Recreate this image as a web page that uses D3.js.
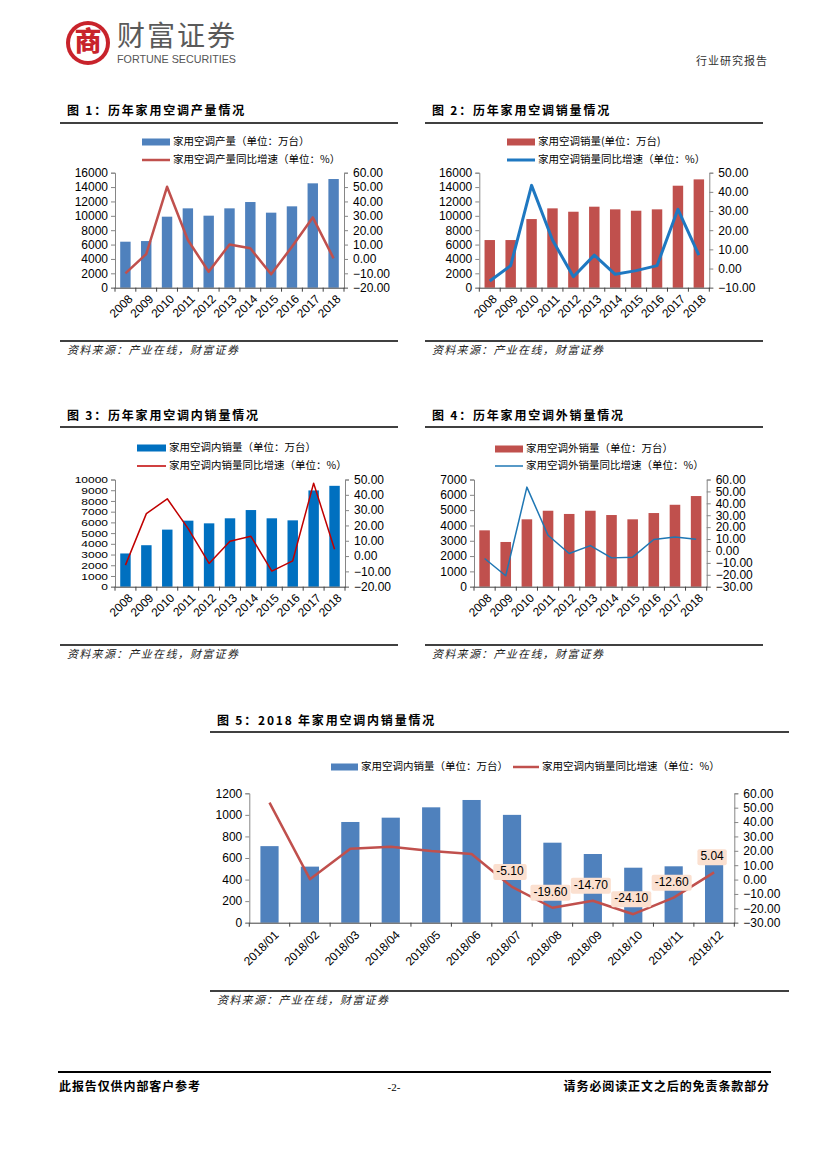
<!DOCTYPE html>
<html><head><meta charset="utf-8">
<script src="https://cdn.jsdelivr.net/npm/d3@7"></script>
<style>body{margin:0;background:#fff}svg{display:block}</style>
</head><body>
<svg id="page" width="827" height="1170"></svg>
<script>
// ---------------- DATA ----------------
const years = ["2008","2009","2010","2011","2012","2013","2014","2015","2016","2017","2018"];
const prodVolume   = [6400, 6490, 9880, 11040, 10020, 11040, 11920, 10440, 11320, 14520, 15120];
const prodGrowth   = [-10.0, 3.4, 50.2, 13.2, -8.9, 10.1, 7.4, -10.7, 8.5, 28.9, 0.4];
const salesVolume  = [6630, 6630, 9550, 11040, 10570, 11270, 10900, 10710, 10900, 14190, 15070];
const salesGrowth  = [-6.5, 1.5, 43.4, 14.9, -4.3, 7.0, -3.0, -1.1, 1.5, 30.9, 7.0];
const domesticVolume = [3100, 3870, 5325, 6160, 5910, 6380, 7150, 6380, 6190, 8980, 9410];
const domesticGrowth = [-5.9, 27.7, 37.4, 17.9, -4.8, 9.7, 12.9, -9.8, -3.1, 47.6, 4.5];
const exportVolume = [3680, 2920, 4400, 4960, 4750, 4960, 4680, 4400, 4810, 5350, 5920];
const exportGrowth = [-6.3, -20.8, 53.6, 13.2, -2.1, 4.5, -5.8, -5.2, 9.6, 11.8, 9.8];

const months = ["2018/01","2018/02","2018/03","2018/04","2018/05","2018/06","2018/07","2018/08","2018/09","2018/10","2018/11","2018/12"];
const monthlyDomestic = [710, 520, 934, 974, 1070, 1138, 1000, 742, 637, 510, 523, 538];
const monthlyGrowth   = [53.5, 0.3, 21.5, 22.9, 19.9, 17.8, -5.10, -19.60, -14.70, -24.10, -12.60, 5.04];
const labeledMonths   = ["2018/07","2018/08","2018/09","2018/10","2018/11","2018/12"];

const ticks16000 = [0,2000,4000,6000,8000,10000,12000,14000,16000];
const ticks10000 = [0,1000,2000,3000,4000,5000,6000,7000,8000,9000,10000];
const ticks7000  = [0,1000,2000,3000,4000,5000,6000,7000];
const ticks1200  = [0,200,400,600,800,1000,1200];
const pctTicksA = [-20,-10,0,10,20,30,40,50,60];
const pctTicksB = [-10,0,10,20,30,40,50];
const pctTicksC = [-20,-10,0,10,20,30,40,50];
const pctTicksD = [-30,-20,-10,0,10,20,30,40,50,60];

const sourceText = "资料来源：产业在线，财富证券";

// ---------------- DRAWING ----------------
const svg = d3.select("#page");
const NUM = "'Liberation Sans', Arial, sans-serif";
const CJK = "'Noto Sans CJK SC', 'Noto Sans', sans-serif";
const AXIS = "#868686";

// Header
const logo = svg.append("g").attr("transform","translate(88,43)");
logo.append("circle").attr("r",22).attr("fill","#c8232b");
logo.append("circle").attr("r",18).attr("fill","#fff");
logo.append("text").attr("y",1).attr("text-anchor","middle").attr("dominant-baseline","middle")
  .attr("font-family",CJK).attr("font-weight",900).attr("font-size",27).attr("fill","#c8232b").text("商");
svg.append("text").attr("x",117).attr("y",38).attr("dominant-baseline","middle")
  .attr("font-family",CJK).attr("font-size",28).attr("fill","#5a5a5a").attr("textLength",118).text("财富证券");
svg.append("text").attr("x",117).attr("y",60).attr("dominant-baseline","middle")
  .attr("font-family","'Liberation Sans Narrow', 'Liberation Sans', Arial, sans-serif").attr("font-size",10.5)
  .attr("fill","#555").attr("textLength",119).attr("lengthAdjust","spacingAndGlyphs").text("FORTUNE SECURITIES");
svg.append("text").attr("x",768).attr("y",62).attr("text-anchor","end").attr("dominant-baseline","middle")
  .attr("font-family",CJK).attr("font-size",11).attr("letter-spacing",1).attr("fill","#333").text("行业研究报告");

// Footer
svg.append("line").attr("x1",58).attr("x2",771).attr("y1",1072).attr("y2",1072).attr("stroke","#000").attr("stroke-width",1.8);
svg.append("text").attr("x",59).attr("y",1088).attr("dominant-baseline","middle")
  .attr("font-family",CJK).attr("font-weight",700).attr("font-size",12).attr("letter-spacing",0.9).text("此报告仅供内部客户参考");
svg.append("text").attr("x",394).attr("y",1088).attr("text-anchor","middle").attr("dominant-baseline","middle")
  .attr("font-family","'Liberation Serif', serif").attr("font-size",11).text("-2-");
svg.append("text").attr("x",770).attr("y",1088).attr("text-anchor","end").attr("dominant-baseline","middle")
  .attr("font-family",CJK).attr("font-weight",700).attr("font-size",12).attr("letter-spacing",0.9).text("请务必阅读正文之后的免责条款部分");

function drawChart(o) {
  const g = svg.append("g");
  // title
  g.append("text").attr("x", o.titleX).attr("y", o.titleY).attr("dominant-baseline","middle")
    .attr("font-family", CJK).attr("font-weight", 700).attr("font-size", 12).attr("letter-spacing", 1.8)
    .text(o.title);
  g.append("line").attr("x1", o.ruleX0).attr("x2", o.ruleX1).attr("y1", o.ruleTop).attr("y2", o.ruleTop)
    .attr("stroke","#000").attr("stroke-width",1.5);
  g.append("line").attr("x1", o.ruleX0).attr("x2", o.ruleX1).attr("y1", o.ruleBottom).attr("y2", o.ruleBottom)
    .attr("stroke","#000").attr("stroke-width",1.5);
  g.append("text").attr("x", o.titleX).attr("y", o.ruleBottom + 10).attr("dominant-baseline","middle")
    .attr("font-family", CJK).attr("font-style","italic").attr("font-size", 11).attr("letter-spacing", 1.3)
    .attr("fill","#222").text(sourceText);

  const x = d3.scaleBand().domain(o.cats).range([o.x0, o.x1]).paddingInner(o.pad).paddingOuter(o.pad/2);
  const yL = d3.scaleLinear().domain([o.leftTicks[0], o.leftTicks[o.leftTicks.length-1]]).range([o.yBottom, o.yTop]);
  const yR = d3.scaleLinear().domain([o.rightTicks[0], o.rightTicks[o.rightTicks.length-1]]).range([o.yBottom, o.yTop]);

  // bars
  g.append("g").selectAll("rect").data(o.cats).join("rect")
    .attr("x", d => x(d)).attr("width", x.bandwidth())
    .attr("y", (d,i) => yL(o.bars[i])).attr("height", (d,i) => yL(0) - yL(o.bars[i]))
    .attr("fill", o.barColor);

  // axes
  const left = g.append("g").attr("transform", `translate(${o.x0},0)`)
    .call(d3.axisLeft(yL).tickValues(o.leftTicks).tickSize(4).tickPadding(3).tickFormat(d3.format("d")));
  const right = g.append("g").attr("transform", `translate(${o.x1},0)`)
    .call(d3.axisRight(yR).tickValues(o.rightTicks).tickSize(4).tickPadding(5).tickFormat(d3.format(".2f")));
  const bottom = g.append("g").attr("transform", `translate(0,${o.yBottom})`)
    .call(d3.axisBottom(x).tickSize(0).tickPadding(0));
  [left, right].forEach(a => {
    a.select(".domain").attr("stroke", AXIS);
    a.selectAll(".tick line").attr("stroke", AXIS);
    a.selectAll("text").attr("font-family", NUM).attr("font-size", 12).attr("fill","#000");
  });
  if (o.compactLeft) {
    // dense axis: shorter glyphs, same width as the 12px labels
    left.selectAll("text").each(function() {
      const w = this.getComputedTextLength();
      d3.select(this).attr("font-size", 9.6).attr("textLength", w).attr("lengthAdjust", "spacingAndGlyphs");
    });
  }
  bottom.select(".domain").attr("stroke", "#404040");
  bottom.selectAll("text").attr("font-family", NUM).attr("font-size", 12).attr("fill","#000")
    .attr("x",0).attr("y",0).attr("dy","0.35em").attr("text-anchor","end")
    .attr("transform", `translate(${o.lblDx},${o.lblDy}) rotate(-45)`);
  // category boundary ticks
  const bounds = d3.range(o.cats.length + 1).map(i => o.x0 + i * x.step());
  g.append("g").selectAll("line").data(bounds).join("line")
    .attr("x1", d => d).attr("x2", d => d).attr("y1", o.yBottom).attr("y2", o.yBottom + 4)
    .attr("stroke", "#404040");

  // line
  const pts = o.cats.map((c,i) => [x(c) + x.bandwidth()/2, yR(o.line[i])]);
  g.append("path").attr("d", d3.line()(pts)).attr("fill","none")
    .attr("stroke", o.lineColor).attr("stroke-width", o.lineWidth).attr("stroke-linejoin","round");

  // legend
  o.legend.forEach(L => {
    if (L.type === "bar") {
      g.append("rect").attr("x", L.x).attr("y", L.y - 3.5).attr("width", L.w).attr("height", 7).attr("fill", o.barColor);
    } else {
      g.append("line").attr("x1", L.x).attr("x2", L.x + L.w).attr("y1", L.y).attr("y2", L.y)
        .attr("stroke", o.lineColor).attr("stroke-width", o.lineWidth);
    }
    g.append("text").attr("x", L.x + L.w + 3).attr("y", L.y).attr("dominant-baseline","middle")
      .attr("font-family", CJK).attr("font-size", 10.5).attr("fill","#000").text(L.text);
  });

  // data labels
  if (o.labels) {
    o.cats.forEach((c,i) => {
      if (!o.labels.includes(c)) return;
      const [px, py] = pts[i];
      const t = o.line[i].toFixed(2);
      const lg = g.append("g").attr("transform", `translate(${px - 2},${py - 15})`);
      const txt = lg.append("text").attr("text-anchor","middle").attr("dominant-baseline","middle")
        .attr("font-family", NUM).attr("font-size", 12).attr("fill","#000").text(t);
      const w = txt.node().getComputedTextLength() + 6;
      lg.insert("rect","text").attr("x", -w/2).attr("y", -8).attr("width", w).attr("height", 16)
        .attr("rx", 2).attr("fill", "#fbe0d0");
    });
  }
}

drawChart({
  title: "图 1：历年家用空调产量情况", titleX: 67, titleY: 112,
  ruleX0: 60, ruleX1: 398, ruleTop: 123, ruleBottom: 341,
  cats: years, bars: prodVolume, line: prodGrowth, pad: 0.5,
  x0: 115, x1: 344, yTop: 172.7, yBottom: 287.7,
  leftTicks: ticks16000, rightTicks: pctTicksA,
  barColor: "#4f81bd", lineColor: "#c0504d", lineWidth: 2.5,
  lblDx: 5, lblDy: 9,
  legend: [{type:"bar", x:142, y:142, w:28, text:"家用空调产量（单位：万台）"},
           {type:"line", x:142, y:160, w:28, text:"家用空调产量同比增速（单位：%）"}]
});
drawChart({
  title: "图 2：历年家用空调销量情况", titleX: 432, titleY: 112,
  ruleX0: 425, ruleX1: 763, ruleTop: 123, ruleBottom: 341,
  cats: years, bars: salesVolume, line: salesGrowth, pad: 0.5,
  x0: 479.3, x1: 709.3, yTop: 172.7, yBottom: 287.7,
  leftTicks: ticks16000, rightTicks: pctTicksB,
  barColor: "#c0504d", lineColor: "#1f78c1", lineWidth: 3,
  lblDx: 5, lblDy: 9,
  legend: [{type:"bar", x:507, y:142, w:28, text:"家用空调销量(单位：万台)"},
           {type:"line", x:507, y:160, w:28, text:"家用空调销量同比增速（单位：%）"}]
});
drawChart({
  title: "图 3：历年家用空调内销量情况", titleX: 67, titleY: 416.5,
  ruleX0: 60, ruleX1: 398, ruleTop: 427, ruleBottom: 645,
  cats: years, bars: domesticVolume, line: domesticGrowth, pad: 0.5,
  x0: 115, x1: 345, yTop: 479.5, yBottom: 586.7,
  leftTicks: ticks10000, rightTicks: pctTicksC, compactLeft: true,
  barColor: "#0070c0", lineColor: "#c00000", lineWidth: 1.5,
  lblDx: 5, lblDy: 9,
  legend: [{type:"bar", x:137, y:448, w:29, text:"家用空调内销量（单位：万台）"},
           {type:"line", x:137, y:466, w:29, text:"家用空调内销量同比增速（单位：%）"}]
});
drawChart({
  title: "图 4：历年家用空调外销量情况", titleX: 432, titleY: 416.5,
  ruleX0: 425, ruleX1: 763, ruleTop: 427, ruleBottom: 645,
  cats: years, bars: exportVolume, line: exportGrowth, pad: 0.5,
  x0: 474, x1: 706.7, yTop: 479.5, yBottom: 586.7,
  leftTicks: ticks7000, rightTicks: pctTicksD,
  barColor: "#c0504d", lineColor: "#1f77b4", lineWidth: 1.5,
  lblDx: 5, lblDy: 9,
  legend: [{type:"bar", x:495, y:449, w:28, text:"家用空调外销量（单位：万台）"},
           {type:"line", x:495, y:466, w:28, text:"家用空调外销量同比增速（单位：%）"}]
});
drawChart({
  title: "图 5：2018 年家用空调内销量情况", titleX: 217, titleY: 721.5,
  ruleX0: 210, ruleX1: 789, ruleTop: 732, ruleBottom: 991,
  cats: months, bars: monthlyDomestic, line: monthlyGrowth, pad: 0.55,
  x0: 249.3, x1: 734.3, yTop: 793.3, yBottom: 922.7,
  leftTicks: ticks1200, rightTicks: pctTicksD,
  barColor: "#4f81bd", lineColor: "#c0504d", lineWidth: 2.5,
  lblDx: 7, lblDy: 10,
  labels: labeledMonths,
  legend: [{type:"bar", x:331, y:767, w:27, text:"家用空调内销量（单位：万台）"},
           {type:"line", x:513, y:767, w:26, text:"家用空调内销量同比增速（单位：%）"}]
});
</script>
</body></html>
